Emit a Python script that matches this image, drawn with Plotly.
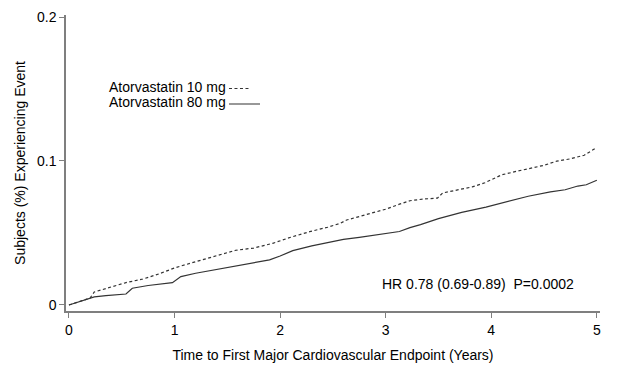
import plotly.graph_objects as go

# Time (years) and cumulative event proportion
t_10mg = [0, 0.1, 0.2, 0.24, 0.3, 0.4, 0.54, 0.7, 0.85, 1.0, 1.15, 1.3, 1.45, 1.58,
          1.75, 1.93, 2.1, 2.28, 2.45, 2.57, 2.63, 2.8, 3.0, 3.13, 3.23, 3.35, 3.49,
          3.54, 3.7, 3.82, 3.94, 4.1, 4.25, 4.4, 4.5, 4.62, 4.75, 4.88, 5.0]
y_10mg = [0, 0.0025, 0.0048, 0.009, 0.0105, 0.0125, 0.0155, 0.018, 0.0215, 0.0257,
          0.029, 0.032, 0.0355, 0.038, 0.0395, 0.0428, 0.047, 0.0509, 0.054, 0.0567,
          0.059, 0.0625, 0.0665, 0.070, 0.0724, 0.0735, 0.0742, 0.0778, 0.080, 0.082,
          0.0849, 0.0904, 0.093, 0.0955, 0.097, 0.0999, 0.1015, 0.104, 0.1094]

t_80mg = [0, 0.1, 0.24, 0.35, 0.54, 0.6, 0.75, 0.98, 1.06, 1.2, 1.35, 1.52, 1.68, 1.9,
          2.0, 2.12, 2.3, 2.44, 2.6, 2.75, 2.91, 3.05, 3.13, 3.23, 3.33, 3.5, 3.72,
          3.95, 4.17, 4.35, 4.56, 4.7, 4.82, 4.9, 5.0]
y_80mg = [0, 0.0025, 0.0056, 0.0065, 0.0076, 0.0116, 0.0135, 0.0155, 0.0197, 0.022,
          0.024, 0.0266, 0.0283, 0.0313, 0.034, 0.0377, 0.041, 0.0433, 0.0455, 0.047,
          0.0486, 0.050, 0.051, 0.0537, 0.0558, 0.060, 0.0643, 0.068, 0.0724, 0.0755,
          0.0785, 0.080, 0.0826, 0.0835, 0.0866]

x_ticks = [0, 1, 2, 3, 4, 5]
y_ticks = [0, 0.1, 0.2]
y_tick_labels = ["0", "0.1", "0.2"]

series_names = ["Atorvastatin 10 mg", "Atorvastatin 80 mg"]
hr_text = "HR 0.78 (0.69-0.89)  P=0.0002"

FONT = "Liberation Sans, Arial, sans-serif"
LINE_COLOR = "#333333"
AXIS_COLOR = "#7f7f7f"
FS = 14

fig = go.Figure()
fig.add_trace(go.Scatter(x=t_10mg, y=y_10mg, mode="lines", name=series_names[0],
                         line=dict(color=LINE_COLOR, width=1.2, dash="3px,2.5px"),
                         showlegend=False))
fig.add_trace(go.Scatter(x=t_80mg, y=y_80mg, mode="lines", name=series_names[1],
                         line=dict(color=LINE_COLOR, width=1.2),
                         showlegend=False))

# legend-like labels with line samples to the right
fig.add_annotation(x=0.0762, y=0.7578, xref="paper", yref="paper", text=series_names[0],
                   showarrow=False, xanchor="left", yanchor="middle",
                   font=dict(family=FONT, size=FS, color="#000"))
fig.add_annotation(x=0.0762, y=0.7071, xref="paper", yref="paper", text=series_names[1],
                   showarrow=False, xanchor="left", yanchor="middle",
                   font=dict(family=FONT, size=FS, color="#000"))
fig.add_shape(type="line", xref="paper", yref="paper", x0=0.3052, x1=0.3464,
              y0=0.7517, y1=0.7517, line=dict(color=LINE_COLOR, width=1.2, dash="3px,2.5px"))
fig.add_shape(type="line", xref="paper", yref="paper", x0=0.3052, x1=0.3633,
              y0=0.6993, y1=0.6993, line=dict(color=LINE_COLOR, width=1.2))

fig.add_annotation(x=0.7715, y=0.0912, xref="paper", yref="paper", text=hr_text,
                   showarrow=False, xanchor="center", yanchor="middle",
                   font=dict(family=FONT, size=FS, color="#000"))

# page body has an 8px margin; plot area sits at page x 66..600, y 15..311
fig.update_layout(
    width=614, height=362,
    margin=dict(l=58, r=22, t=7, b=59),
    paper_bgcolor="white", plot_bgcolor="white",
    font=dict(family=FONT, size=FS, color="#000"),
    xaxis=dict(range=[-0.028, 5.03], tickvals=x_ticks, ticktext=[str(v) for v in x_ticks],
               showline=True, linecolor=AXIS_COLOR, linewidth=1.5, ticks="outside",
               ticklen=5, tickcolor=AXIS_COLOR, showgrid=False, zeroline=False,
               automargin=False,
               title=dict(text="Time to First Major Cardiovascular Endpoint (Years)",
                          standoff=14, font=dict(size=FS))),
    yaxis=dict(range=[-0.0042, 0.2014], tickvals=y_ticks, ticktext=y_tick_labels,
               showline=True, linecolor=AXIS_COLOR, linewidth=1.5, ticks="outside",
               ticklen=5, tickcolor=AXIS_COLOR, showgrid=False, zeroline=False,
               automargin=False,
               title=dict(text="Subjects (%) Experiencing Event", standoff=8,
                          font=dict(size=FS))),
)

fig.write_html("out.html")
